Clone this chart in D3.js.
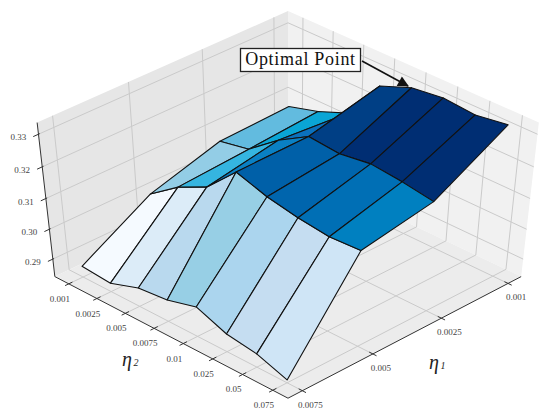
<!DOCTYPE html>
<meta charset="utf-8">
<head>
	<style>
		html, body { margin: 0; background: white; }
		svg { display: block; font-family: "Liberation Serif", serif; }
		.grid { stroke: #cacaca; stroke-width: 1; fill: none; }
		.edge { stroke: #333; stroke-width: 1; fill: none; }
		.ticklabel { font-size: 9px; fill: #444; text-anchor: middle; }
		.cell { stroke: #111; stroke-width: 1.1; stroke-linejoin: round; }
	</style>
	<script src="https://d3js.org/d3.v7.min.js"></script>
</head>
<body>
<script>

// DATA
var eta1 = ['0.001', '0.0025', '0.005', '0.0075'];
var eta2 = ['0.001', '0.0025', '0.005', '0.0075', '0.01', '0.025', '0.05', '0.075'];
var zTicks = [0.29, 0.30, 0.31, 0.32, 0.33];

// one row per eta1, values along eta2
var row0001 = [0.3080, 0.3107, 0.3145, 0.3272, 0.3309, 0.3321, 0.3313, 0.3327];
var row0025 = [0.3071, 0.3090, 0.3163, 0.3219, 0.3210, 0.3224, 0.3214, 0.3199];
var row0050 = [0.3006, 0.3075, 0.3122, 0.3215, 0.3184, 0.3165, 0.3153, 0.3158];
var row0075 = [0.2877, 0.2869, 0.2903, 0.2913, 0.2941, 0.2901, 0.2886, 0.2850];
var rows = [row0001, row0025, row0050, row0075];

// face colours, one strip per pair of rows
var coloursBack = ['#62bbdf', '#0aa5d5', '#0b71bd', '#003f85', '#002e73', '#002e73', '#002e73'];
var coloursMid = ['#93cde6', '#35b5e0', '#0a80c4', '#0060a8', '#0065ad', '#006fb5', '#0080c0'];
var coloursFront = ['#f5faff', '#dcecf8', '#b9d9ee', '#97cfe5', '#abd5ee', '#c5ddf1', '#cfe5f6'];
var faceColours = [coloursBack, coloursMid, coloursFront];

// SCALES
var u = d3.scalePoint().domain(eta2).range([-1, 1]).padding(0.5),
	v = d3.scalePoint().domain(eta1).range([-1, 1]).padding(0.2),
	z = d3.scaleLinear().domain([0.284, 0.3335]).range([-1, 1]);

// camera, fitted to the box corners
var cam = { cx: 288, cy: 202.4, fx: 3418, fy: 2255, dist: 20, s: Math.sin(47 * Math.PI / 180), c: Math.cos(47 * Math.PI / 180) };

function project(a, b, h) {
	var across = (a - b) / Math.SQRT2,
		depth = (a + b) / Math.SQRT2,
		w = depth * cam.c + h * cam.s,
		up = h * cam.c - depth * cam.s;
	return [cam.cx + cam.fx * across / (cam.dist - w), cam.cy - cam.fy * up / (cam.dist - w)];
}

var poly = d3.line();

var svg = d3.select('body').append('svg').attr('width', 550).attr('height', 416);

// WALLS AND FLOOR
function plane(corners, fill) {
	svg.append('path').attr('d', poly(corners.map(function(p) { return project(p[0], p[1], p[2]); })) + 'Z').attr('fill', fill);
}
plane([[-1, -1, -1], [-1, 1, -1], [-1, 1, 1], [-1, -1, 1]], '#e6e6e6');
plane([[-1, -1, -1], [1, -1, -1], [1, -1, 1], [-1, -1, 1]], '#f1f1f1');
plane([[-1, -1, -1], [-1, 1, -1], [1, 1, -1], [1, -1, -1]], '#ececec');

function seg(cls, a, b) {
	svg.append('path').attr('class', cls).attr('d', poly([project(a[0], a[1], a[2]), project(b[0], b[1], b[2])]));
}

// GRID
eta1.forEach(function(d) {
	seg('grid', [-1, v(d), -1], [1, v(d), -1]);
	seg('grid', [-1, v(d), -1], [-1, v(d), 1]);
});
eta2.forEach(function(d) {
	seg('grid', [u(d), -1, -1], [u(d), 1, -1]);
	seg('grid', [u(d), -1, -1], [u(d), -1, 1]);
});
zTicks.forEach(function(d) {
	seg('grid', [-1, 1, z(d)], [-1, -1, z(d)]);
	seg('grid', [-1, -1, z(d)], [1, -1, z(d)]);
});

// AXES
seg('edge', [-1, 1, -1], [1, 1, -1]);
seg('edge', [1, 1, -1], [1, -1, -1]);
seg('edge', [-1, 1, -1], [-1, 1, 1]);

eta2.forEach(function(d) {
	seg('edge', [u(d), 1.03, -1], [u(d), 0.97, -1]);
	var p = project(u(d), 1, -1);
	svg.append('text').attr('class', 'ticklabel').attr('x', p[0] - 9).attr('y', p[1] + 18).text(d);
});
eta1.forEach(function(d) {
	seg('edge', [1.03, v(d), -1], [0.97, v(d), -1]);
	var p = project(1, v(d), -1);
	svg.append('text').attr('class', 'ticklabel').attr('x', p[0] + 8).attr('y', p[1] + 17).text(d);
});
zTicks.forEach(function(d) {
	seg('edge', [-1, 1.04, z(d)], [-1, 0.99, z(d)]);
	var p = project(-1, 1, z(d));
	svg.append('text').attr('class', 'ticklabel').attr('x', p[0] - 20).attr('y', p[1] + 6).text(d3.format('.2f')(d));
});

// SURFACE
var cells = [];
faceColours.forEach(function(strip, j) {
	strip.forEach(function(col, i) {
		var quad = [[i, j], [i + 1, j], [i + 1, j + 1], [i, j + 1]].map(function(q) {
			return [u(eta2[q[0]]), v(eta1[q[1]]), z(rows[q[1]][q[0]])];
		});
		cells.push({ quad: quad, col: col, depth: d3.mean(quad, function(p) { return (p[0] + p[1]) / Math.SQRT2 * cam.c + p[2] * cam.s; }) });
	});
});
cells.sort(function(e, f) { return d3.ascending(e.depth, f.depth); });

svg.selectAll('.cell').data(cells).enter().append('path')
	.attr('class', 'cell')
	.attr('fill', function(d) { return d.col; })
	.attr('d', function(d) { return poly(d.quad.map(function(p) { return project(p[0], p[1], p[2]); })) + 'Z'; });

// AXIS NAMES
function etaLabel(x, y, sub) {
	var t = svg.append('text').attr('x', x).attr('y', y).attr('fill', '#222').attr('font-style', 'italic').attr('font-size', 20).text('η');
	t.append('tspan').attr('font-size', 10).attr('dx', 1.5).text(sub);
}
etaLabel(122, 366, '2');
etaLabel(429, 369, '1');

// CALLOUT
svg.append('defs').append('marker').attr('id', 'head')
	.attr('viewBox', '0 0 10 10').attr('refX', 9).attr('refY', 5)
	.attr('markerWidth', 14).attr('markerHeight', 11).attr('markerUnits', 'userSpaceOnUse').attr('orient', 'auto')
	.append('path').attr('d', 'M0,0L10,5L0,10Z').attr('fill', '#111');

svg.append('rect').attr('x', 240.5).attr('y', 48.5).attr('width', 120).attr('height', 23)
	.attr('fill', 'white').attr('stroke', '#222').attr('stroke-width', 1.3);
svg.append('text').attr('x', 300.5).attr('y', 64.5).attr('text-anchor', 'middle')
	.attr('font-size', 18).attr('letter-spacing', 0.7).attr('fill', '#111').text('Optimal Point');
svg.append('line').attr('x1', 362).attr('y1', 61).attr('x2', 408).attr('y2', 86)
	.attr('stroke', '#111').attr('stroke-width', 1.6).attr('marker-end', 'url(#head)');

</script>
</body>
